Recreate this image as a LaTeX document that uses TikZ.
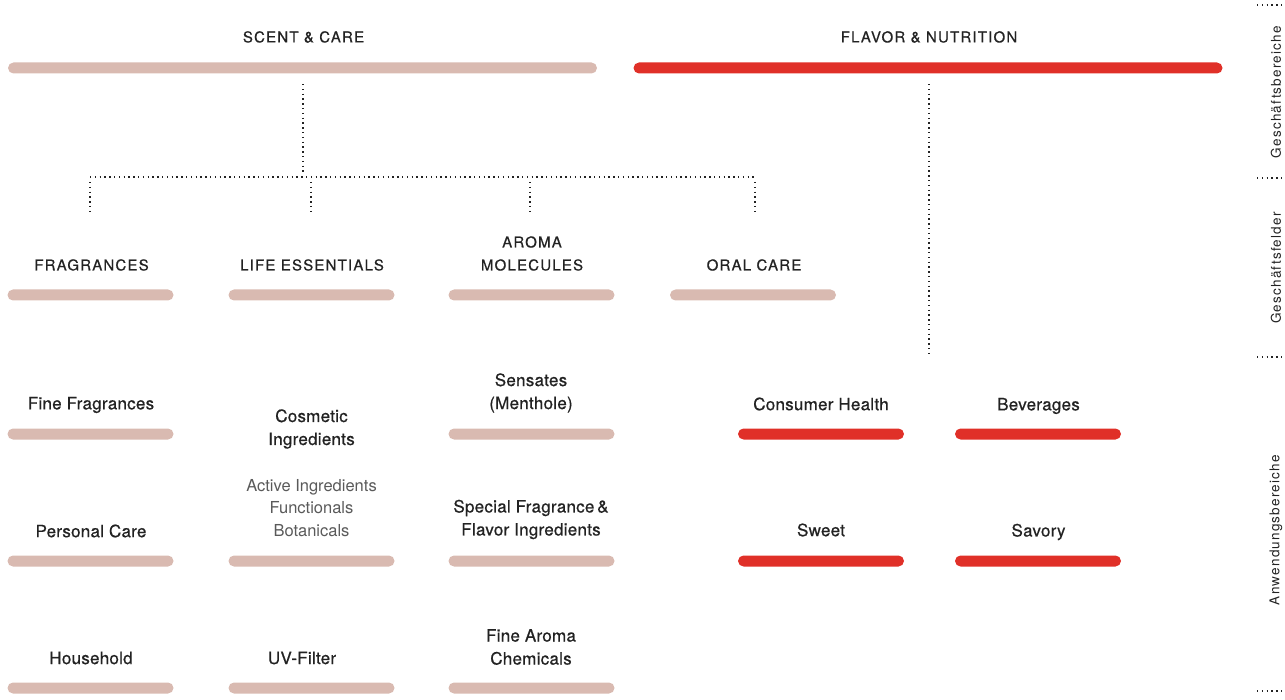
\documentclass[tikz,border=0pt]{standalone}
\usepackage{fontspec}
\setmainfont{TeX Gyre Heros}
\newfontfamily\medf[FakeBold=0.6,LetterSpace=1.5]{TeX Gyre Heros}
\newfontfamily\capf[FakeBold=0.6,LetterSpace=8]{TeX Gyre Heros}
\newfontfamily\sidef[LetterSpace=9]{TeX Gyre Heros}
\definecolor{scpink}{HTML}{D9BAB1}
\definecolor{scred}{HTML}{E03028}
\definecolor{txt}{HTML}{222222}
\definecolor{litetxt}{HTML}{5A5A5A}
\begin{document}
\begin{tikzpicture}[x=1pt,y=-1pt,
  barbase/.style={rounded corners=5.5pt, minimum height=11pt, inner sep=0pt, draw=none, minimum width=166pt},
  pbar/.style={barbase, fill=scpink},
  rbar/.style={barbase, fill=scred},
  lbl/.style={font=\medf\fontsize{17}{23}\selectfont, text=txt, align=center, inner sep=0pt},
  caplbl/.style={font=\capf\fontsize{15}{23}\selectfont, text=txt, align=center, inner sep=0pt},
  lite/.style={font=\fontsize{16.5}{22.5}\selectfont, text=litetxt, align=center, inner sep=0pt},
  side/.style={font=\sidef\fontsize{13.5}{15}\selectfont, text=txt, rotate=90, inner sep=0pt},
  dots/.style={draw=txt, line width=1.4pt, dash pattern=on 1.4pt off 3.4pt}
]
\useasboundingbox (0,0) rectangle (1285,700);

% top level
\node[caplbl] (sc) at (303.5,37) {SCENT \& CARE};
\node[caplbl] (fn) at (929,37) {FLAVOR \& NUTRITION};
\node[pbar, minimum width=589pt] (scbar) at (302.5,68) {};
\node[rbar, minimum width=589pt] (fnbar) at (928,68) {};

% level 2
\node[caplbl] (fr) at (91.5,265) {FRAGRANCES};
\node[caplbl] (le) at (312,265) {LIFE ESSENTIALS};
\node[caplbl] (am) at (532,253.5) {AROMA\\MOLECULES};
\node[caplbl] (oc) at (754,265) {ORAL CARE};
\node[pbar] (frbar) at (90.5,295) {};
\node[pbar] (lebar) at (311.5,295) {};
\node[pbar] (ambar) at (531.5,295) {};
\node[pbar] (ocbar) at (753,295) {};

% connectors scent & care
\coordinate (scA) at (303,84);
\coordinate (scJ) at (303,172);
\coordinate (hL) at (90,177);
\coordinate (hR) at (755,177);
\coordinate (d1t) at (90,182);
\coordinate (d1b) at (90,211);
\coordinate (d2t) at (311,182);
\coordinate (d2b) at (311,211);
\coordinate (d3t) at (530,182);
\coordinate (d3b) at (530,211);
\coordinate (d4t) at (755,182);
\coordinate (d4b) at (755,211);
\draw[dots] (scA) -- (scJ);
\draw[dots] (hL) -- (hR);
\draw[dots] (d1t) -- (d1b);
\draw[dots] (d2t) -- (d2b);
\draw[dots] (d3t) -- (d3b);
\draw[dots] (d4t) -- (d4b);

% connector flavor
\coordinate (fnA) at (929,84);
\coordinate (fnB) at (929,356);
\draw[dots] (fnA) -- (fnB);

% level 3 column 1
\node[lbl] (ff) at (91,405) {Fine Fragrances};
\node[pbar] (ffbar) at (90.5,434) {};
\node[lbl] (pc) at (91,531) {Personal Care};
\node[pbar] (pcbar) at (90.5,561) {};
\node[lbl] (hh) at (91,658) {Household};
\node[pbar] (hhbar) at (90.5,688) {};

% column 2
\node[lbl] (ci) at (311.5,429) {Cosmetic\\Ingredients};
\node[lite] (ai) at (311.5,508) {Active Ingredients\\Functionals\\Botanicals};
\node[pbar] (aibar) at (311.5,561) {};
\node[lbl] (uv) at (302,658) {UV-Filter};
\node[pbar] (uvbar) at (311.5,688) {};

% column 3
\node[lbl] (se) at (531,393) {Sensates\\(Menthole)};
\node[pbar] (sebar) at (531.5,434) {};
\node[lbl] (sf) at (531,519.5) {Special Fragrance\,\&\\Flavor Ingredients};
\node[pbar] (sfbar) at (531.5,561) {};
\node[lbl] (fa) at (531,647) {Fine Aroma\\Chemicals};
\node[pbar] (fabar) at (531.5,688) {};

% flavor & nutrition
\node[lbl] (ch) at (821,404) {Consumer Health};
\node[rbar] (chbar) at (821,434) {};
\node[lbl] (bv) at (1038.5,406) {Beverages};
\node[rbar] (bvbar) at (1038,434) {};
\node[lbl] (sw) at (821,530) {Sweet};
\node[rbar] (swbar) at (821,561) {};
\node[lbl] (sv) at (1038.5,532) {Savory};
\node[rbar] (svbar) at (1038,561) {};

% side legend
\coordinate (s1a) at (1257,5);   \coordinate (s1b) at (1285,5);
\coordinate (s2a) at (1257,178); \coordinate (s2b) at (1285,178);
\coordinate (s3a) at (1257,357); \coordinate (s3b) at (1285,357);
\coordinate (s4a) at (1257,691); \coordinate (s4b) at (1285,691);
\draw[dots] (s1a) -- (s1b);
\draw[dots] (s2a) -- (s2b);
\draw[dots] (s3a) -- (s3b);
\draw[dots] (s4a) -- (s4b);
\node[side] (gb) at (1276,92) {Geschäftsbereiche};
\node[side] (gf) at (1276,268) {Geschäftsfelder};
\node[side] (ab) at (1276,530) {Anwendungsbereiche};
\end{tikzpicture}
\end{document}
